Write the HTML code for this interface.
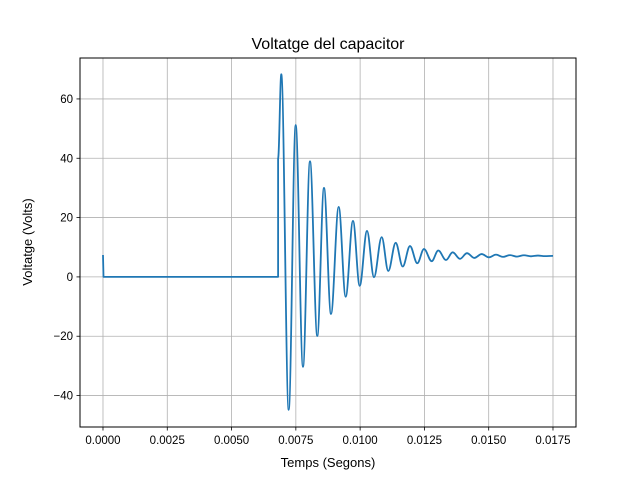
<!DOCTYPE html>
<html><head><meta charset="utf-8"><style>
html,body{margin:0;padding:0;background:#fff}
svg{display:block;font-family:"Liberation Sans","DejaVu Sans",sans-serif}
</style></head><body>
<svg id="chart" width="640" height="480">
<rect width="640" height="480" fill="#fff"/>
<g id="grid"></g>
<g id="series"></g>
<rect x="80" y="58" width="496" height="369" fill="none" stroke="#000" stroke-width="1"/>
<g id="ticks"></g>
<text x="328" y="49" text-anchor="middle" font-size="16">Voltatge del capacitor</text>
<text x="328" y="467" text-anchor="middle" font-size="13">Temps (Segons)</text>
<text transform="translate(32,242) rotate(-90)" text-anchor="middle" font-size="13">Voltatge (Volts)</text>
</svg>
<script>
const xTicks=[0,0.0025,0.005,0.0075,0.01,0.0125,0.015,0.0175];
const xTickLabels=["0.0000","0.0025","0.0050","0.0075","0.0100","0.0125","0.0150","0.0175"];
const yTicks=[-40,-20,0,20,40,60];
const yTickLabels=["\u221240","\u221220","0","20","40","60"];
// initial step (straight segments)
const stepTimes=[0,0.00002,0.00681,0.00681];
const stepValues=[7.4,0,0,40];
// oscillation extrema (smooth)
const extTimes=[0.006934,0.007222,0.007494,0.007778,0.008050,0.008334,0.008594,0.008867,0.009166,0.009438,0.009722,0.009983,0.010267,0.010539,0.010838,0.011095,0.011383,0.011655,0.011939,0.012223,0.012483,0.012783,0.013039,0.013339,0.013599,0.013883,0.014156,0.014439,0.014727,0.015011,0.015283,0.015556,0.015828,0.016100,0.016372,0.016644,0.016917,0.017189,0.0175];
const extValues=[68.3,-44.8,51.2,-30.3,39,-19.9,30,-12.5,23.6,-6.7,18.9,-3,15.5,-0.1,13.4,2.0,11.5,3.5,10.4,4.6,9.4,5.3,8.9,5.7,8.3,6.1,8.0,6.4,7.7,6.6,7.5,6.75,7.35,6.85,7.3,6.95,7.2,7.0,7.1];

const X0=80,X1=576,Y0=58,Y1=427;
const xmin=-0.000894,xmax=0.018395,ymin=-50.6,ymax=73.8;
const sx=t=>X0+(t-xmin)/(xmax-xmin)*(X1-X0);
const sy=v=>Y1-(v-ymin)/(ymax-ymin)*(Y1-Y0);
const NS="http://www.w3.org/2000/svg";
const grid=document.getElementById('grid'),ticks=document.getElementById('ticks'),series=document.getElementById('series');
function mk(tag,attrs,parent){const e=document.createElementNS(NS,tag);for(const k in attrs)e.setAttribute(k,attrs[k]);parent.appendChild(e);return e;}
xTicks.forEach((t,i)=>{
  const x=sx(t);
  const g=mk('line',{x1:x,x2:x,y1:Y0,y2:Y1,stroke:'#b0b0b0','stroke-width':0.8},grid);
  
  
  const tk=mk('line',{x1:x,x2:x,y1:Y1,y2:Y1+3.5,stroke:'#000','stroke-width':0.8},ticks);
  
  
  const lb=mk('text',{x:x,y:Y1+17,'text-anchor':'middle','font-size':11.5},ticks);
  lb.textContent=xTickLabels[i];
  
  
});
yTicks.forEach((v,i)=>{
  const y=sy(v);
  const g=mk('line',{x1:X0,x2:X1,y1:y,y2:y,stroke:'#b0b0b0','stroke-width':0.8},grid);
  
  
  const tk=mk('line',{x1:X0-3.5,x2:X0,y1:y,y2:y,stroke:'#000','stroke-width':0.8},ticks);
  
  
  const lb=mk('text',{x:X0-7,y:y+4,'text-anchor':'end','font-size':11.5},ticks);
  lb.textContent=yTickLabels[i];
  
  
});
let d='';
stepTimes.forEach((t,i)=>{d+=(i?'L':'M')+sx(t).toFixed(2)+','+sy(stepValues[i]).toFixed(2);});
let px=sx(stepTimes[stepTimes.length-1]),py=sy(stepValues[stepValues.length-1]);
extTimes.forEach((t,i)=>{
  const x=sx(t),y=sy(extValues[i]);
  const dx=x-px;
  d+='C'+(px+dx*0.36).toFixed(2)+','+py.toFixed(2)+' '+(x-dx*0.36).toFixed(2)+','+y.toFixed(2)+' '+x.toFixed(2)+','+y.toFixed(2);
  px=x;py=y;
});
const line=mk('path',{d:d,fill:'none',stroke:'#1f77b4','stroke-width':1.8,'stroke-linejoin':'round'},series);


</script>
</body></html>
